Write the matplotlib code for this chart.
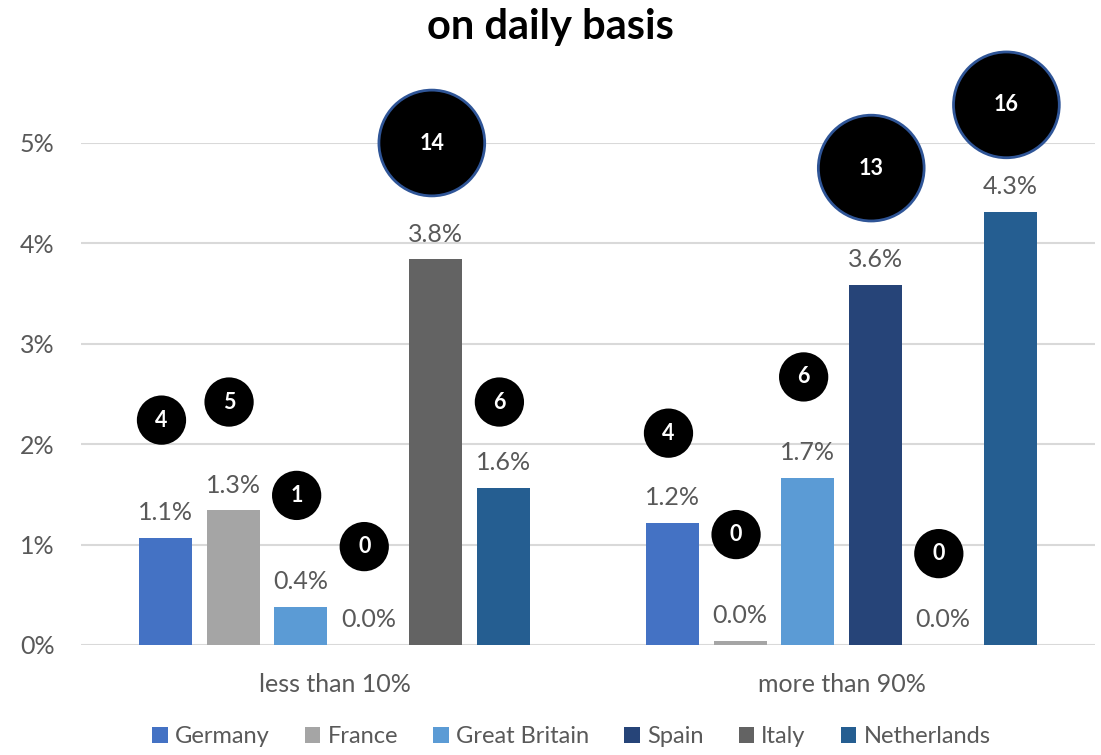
import numpy as np
import matplotlib
matplotlib.use('Agg')
import matplotlib.pyplot as plt

plt.rcParams['font.family'] = ['Lato', 'DejaVu Sans']

categories = ["less than 10%", "more than 90%"]
countries = ["Germany", "France", "Great Britain", "Spain", "Italy", "Netherlands"]
colors = ["#4472C4", "#A5A5A5", "#5B9BD5", "#264478", "#636363", "#255E91"]

# share of respondents (%) per country, one list per category
share = {
    "Germany":       [1.07, 1.22],
    "France":        [1.34, 0.04],
    "Great Britain": [0.38, 1.66],
    "Spain":         [0.00, 3.59],
    "Italy":         [3.84, 0.00],
    "Netherlands":   [1.56, 4.31],
}
# respondent counts shown in the bubbles, and the bubble heights (%)
counts = {
    "Germany":       [4, 4],
    "France":        [5, 0],
    "Great Britain": [1, 6],
    "Spain":         [0, 13],
    "Italy":         [14, 0],
    "Netherlands":   [6, 16],
}
bubble_y = {
    "Germany":       [2.24, 2.11],
    "France":        [2.42, 1.10],
    "Great Britain": [1.49, 2.67],
    "Spain":         [0.98, 4.75],
    "Italy":         [5.00, 0.91],
    "Netherlands":   [2.42, 5.38],
}
yticks = [0, 1, 2, 3, 4, 5]

text_gray = "#595959"
fig = plt.figure(figsize=(11.01, 7.55), dpi=100)
ax = fig.add_axes([81 / 1101, 1 - 645 / 755, (1095 - 81) / 1101, (645 - 143) / 755])

x = np.arange(len(categories))
step = 0.1333
width = 0.1046
for i, c in enumerate(countries):
    pos = x + (i - 2.5) * step
    vals = share[c]
    ax.bar(pos, vals, width, color=colors[i], label=c, zorder=2)
    for xp, v in zip(pos, vals):
        ax.annotate(f"{v:.1f}%", (xp, v), xytext=(0, 10), textcoords="offset points",
                    ha="center", va="bottom", fontsize=18, color=text_gray)
    n = np.array(counts[c])
    sizes = np.where(n >= 10, 5800, 1120)
    edges = np.where(n >= 10, "#2F5597", "black")
    # bubbles sit a touch left of the bar centres
    bx = pos - 0.008
    ax.scatter(bx, bubble_y[c], s=sizes, c="black", edgecolors=edges,
               linewidths=2, zorder=4, clip_on=False)
    for xp, yp, k in zip(bx, bubble_y[c], n):
        ax.text(xp, yp, str(k), ha="center", va="center", color="white",
                fontsize=15.5, fontweight="bold", zorder=5)

ax.set_xlim(-0.5, 1.5)
ax.set_ylim(0, 5)
ax.set_yticks(yticks)
ax.set_yticklabels([f"{t}%" for t in yticks])
ax.set_xticks(x)
ax.set_xticklabels(categories)
ax.tick_params(axis="both", length=0, labelsize=18, labelcolor=text_gray)
ax.tick_params(axis="y", pad=19)
ax.tick_params(axis="x", pad=20)
ax.grid(axis="y", color="#D9D9D9", linewidth=1.5, zorder=0)
for s in ax.spines.values():
    s.set_visible(False)

fig.suptitle("on daily basis", y=0.964, va="center", fontsize=30,
             fontweight="bold", color="black")
fig.legend(loc="center", bbox_to_anchor=(0.519, 0.024), ncol=6, frameon=False,
           fontsize=17, labelcolor=text_gray, handlelength=0.65, handleheight=0.65,
           handletextpad=0.3, columnspacing=1.5)

fig.savefig("out.png", dpi=100)
